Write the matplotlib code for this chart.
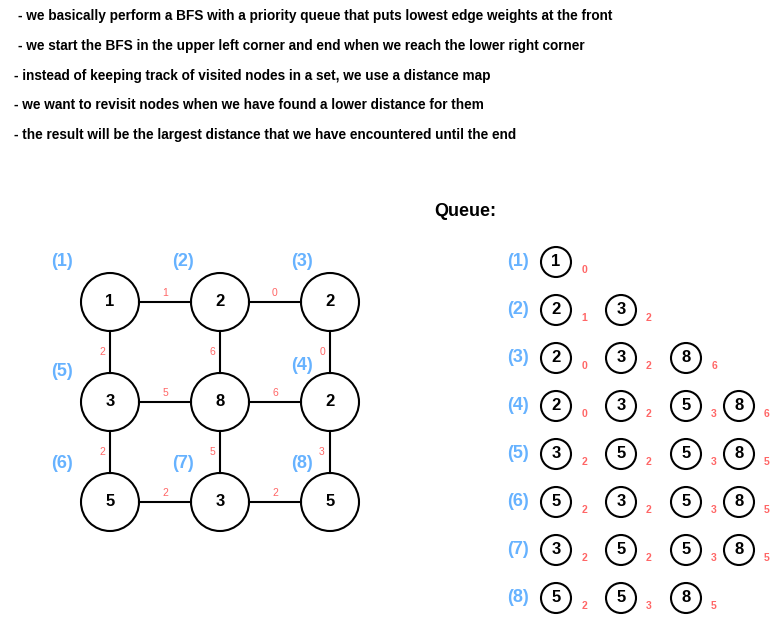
import matplotlib.pyplot as plt
from matplotlib.patches import Circle

plt.rcParams['font.family'] = ['Liberation Sans', 'DejaVu Sans']

notes = [
    "- we basically perform a BFS with a priority queue that puts lowest edge weights at the front",
    "- we start the BFS in the upper left corner and end when we reach the lower right corner",
    "- instead of keeping track of visited nodes in a set, we use a distance map",
    "- we want to revisit nodes when we have found a lower distance for them",
    "- the result will be the largest distance that we have encountered until the end",
]
grid = [[1, 2, 2], [3, 8, 2], [5, 3, 5]]
h_weights = [[1, 0], [5, 6], [2, 2]]
v_weights = [[2, 6, 0], [2, 5, 3]]
step_labels = ["(1)", "(2)", "(3)", "(5)", "(4)", "(6)", "(7)", "(8)"]
step_pos = [(62, 262), (183, 262), (302, 262), (62, 371), (302, 366), (62, 464), (183, 464), (302, 464)]
queue = [
    [(1, 0)],
    [(2, 1), (3, 2)],
    [(2, 0), (3, 2), (8, 6)],
    [(2, 0), (3, 2), (5, 3), (8, 6)],
    [(3, 2), (5, 2), (5, 3), (8, 5)],
    [(5, 2), (3, 2), (5, 3), (8, 5)],
    [(3, 2), (5, 2), (5, 3), (8, 5)],
    [(5, 2), (5, 3), (8, 5)],
]

RED = "#ff6666"
BLUE = "#66b2ff"
fig = plt.figure(figsize=(7.81, 6.19), dpi=100)
ax = fig.add_axes([0, 0, 1, 1])
ax.set_xlim(0, 781)
ax.set_ylim(619, 0)
ax.axis("off")

for i, t in enumerate(notes):
    ax.text(18 if i < 2 else 14, 16 + i * 29.8, t, fontsize=9.8, fontweight="bold", va="center")
ax.text(434, 212, "Queue:", fontsize=13, fontweight="bold", va="center")

xs = [110, 220, 330]
ys = [302, 402, 502]
R = 29
for r in range(3):
    for c in range(2):
        ax.plot([xs[c] + R, xs[c + 1] - R], [ys[r]] * 2, color="black", lw=1.5)
        ax.text((xs[c] + xs[c + 1]) / 2, ys[r] - 9, str(h_weights[r][c]), color=RED, fontsize=7.5, ha="center", va="center")
for r in range(2):
    for c in range(3):
        ax.plot([xs[c]] * 2, [ys[r] + R, ys[r + 1] - R], color="black", lw=1.5)
        ax.text(xs[c] - 8, (ys[r] + ys[r + 1]) / 2, str(v_weights[r][c]), color=RED, fontsize=7.5, ha="center", va="center")
for r in range(3):
    for c in range(3):
        ax.add_patch(Circle((xs[c], ys[r]), R, fill=False, lw=1.5, ec="black"))
        ax.text(xs[c], ys[r], str(grid[r][c]), fontsize=12, fontweight="bold", ha="center", va="center")
for lab, (x, y) in zip(step_labels, step_pos):
    ax.text(x, y, lab, color=BLUE, fontsize=13, fontweight="bold", ha="center", va="center")

qx = [556, 621, 686, 739]
for i, row in enumerate(queue):
    y = 262 + i * 48
    ax.text(518, y, "(%d)" % (i + 1), color=BLUE, fontsize=13, fontweight="bold", ha="center", va="center")
    for j, (v, d) in enumerate(row):
        ax.add_patch(Circle((qx[j], y), 15, fill=False, lw=1.5, ec="black"))
        ax.text(qx[j], y, str(v), fontsize=12, fontweight="bold", ha="center", va="center")
        ax.text(qx[j] + 28, y + 8, str(d), color=RED, fontsize=7.5, fontweight="bold", ha="center", va="center")

fig.savefig("out.png", dpi=100)
